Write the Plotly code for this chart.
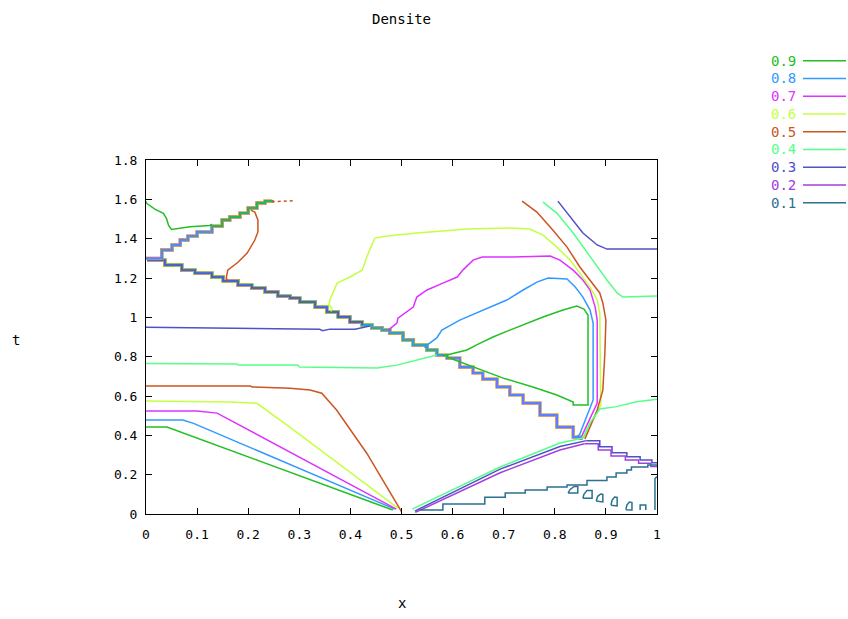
import plotly.graph_objects as go

# Contour levels of the density field and their colours
levels = [0.9, 0.8, 0.7, 0.6, 0.5, 0.4, 0.3, 0.2, 0.1]
level_labels = ["0.9", "0.8", "0.7", "0.6", "0.5", "0.4", "0.3", "0.2", "0.1"]
level_colors = ["#22c022", "#3399ff", "#dd33ff", "#c4ff40", "#cc5522",
                "#55ff88", "#5050c8", "#a040e0", "#2a7090"]

# Stair corners of the descending shock (from (0,1.3) to (0.85,0.38))
shock_x = [0.002, 0.037, 0.070, 0.096, 0.129, 0.151, 0.180, 0.207, 0.233, 0.258,
           0.282, 0.301, 0.331, 0.354, 0.376, 0.399, 0.423, 0.442, 0.462, 0.477,
           0.503, 0.523, 0.550, 0.569, 0.589, 0.614, 0.640, 0.659, 0.687, 0.712,
           0.738, 0.771, 0.804, 0.836, 0.851]
shock_t = [1.291, 1.266, 1.240, 1.225, 1.205, 1.185, 1.164, 1.149, 1.129, 1.108,
           1.098, 1.078, 1.052, 1.027, 1.002, 0.976, 0.961, 0.946, 0.935, 0.920,
           0.885, 0.859, 0.834, 0.808, 0.793, 0.747, 0.717, 0.686, 0.646, 0.605,
           0.564, 0.503, 0.442, 0.391, 0.376]
# x at which each level leaves the descending shock
shock_end = {0.9: 0.59, 0.8: 0.86, 0.7: 0.86, 0.6: 0.86, 0.5: 0.86, 0.4: 0.57, 0.3: 0.44}

# Stair corners of the rising front in the upper left (from (0,1.3) to (0.25,1.6))
front_x = [0.000, 0.031, 0.051, 0.067, 0.082, 0.100, 0.129, 0.149, 0.164, 0.184,
           0.200, 0.217, 0.233, 0.247]
front_t = [1.300, 1.342, 1.368, 1.393, 1.413, 1.434, 1.464, 1.495, 1.510, 1.530,
           1.556, 1.581, 1.591, 1.596]
# x at which each level joins the rising front
front_start = {0.9: 0.129, 0.8: 0.0, 0.7: 0.0, 0.6: 0.0, 0.5: 0.0}

# Remaining pieces of each contour (None separates pieces)
x9 = [0.0, 0.001, 0.018, 0.034, 0.040, 0.044, 0.050, 0.086, 0.125, 0.129, None,
      0.581, 0.628, 0.650, 0.679, 0.712, 0.746, 0.777, 0.816, 0.843, 0.857, 0.865,
      0.865, 0.865, 0.836, 0.836, 0.804, 0.757, 0.699, 0.648, 0.589, None,
      0.0, 0.041, 0.483]
t9 = [1.590, 1.580, 1.549, 1.529, 1.503, 1.469, 1.447, 1.461, 1.467, 1.474, None,
      0.803, 0.834, 0.864, 0.900, 0.935, 0.971, 1.002, 1.037, 1.057, 1.042, 1.012,
      0.935, 0.554, 0.554, 0.569, 0.605, 0.646, 0.691, 0.742, 0.798, None,
      0.442, 0.442, 0.020]

x8 = [0.0, 0.072, 0.093, 0.487, None,
      0.545, 0.550, 0.569, 0.579, 0.614, 0.659, 0.706, 0.738, 0.765, 0.787, 0.824,
      0.840, 0.855, 0.869, 0.875, 0.875, 0.849, 0.841]
t8 = [0.478, 0.478, 0.461, 0.025, None,
      0.845, 0.859, 0.895, 0.935, 0.986, 1.037, 1.088, 1.139, 1.179, 1.200, 1.195,
      1.154, 1.103, 1.037, 0.971, 0.580, 0.407, 0.386]

x7 = [0.0, 0.100, 0.139, 0.490, None,
      0.474, 0.491, 0.493, 0.523, 0.530, 0.550, 0.581, 0.609, 0.620, 0.640, 0.658,
      0.718, 0.791, 0.810, 0.836, 0.855, 0.869, 0.879, 0.883, 0.883, 0.853]
t7 = [0.524, 0.524, 0.513, 0.025, None,
      0.935, 0.971, 0.996, 1.052, 1.103, 1.139, 1.174, 1.205, 1.240, 1.291, 1.307,
      1.307, 1.312, 1.291, 1.240, 1.190, 1.139, 1.052, 0.986, 0.564, 0.397]

x6 = [0.0, 0.164, 0.217, 0.282, 0.493, None,
      0.362, 0.364, 0.358, 0.360, 0.374, 0.399, 0.423, 0.432, 0.442, 0.448, 0.472,
      0.530, 0.581, 0.628, 0.712, 0.751, 0.777, 0.804, 0.830, 0.849, 0.869, 0.883,
      0.888, 0.890, 0.857]
t6 = [0.575, 0.570, 0.563, 0.440, 0.030, None,
      1.030, 1.045, 1.065, 1.090, 1.174, 1.205, 1.240, 1.307, 1.368, 1.403, 1.413,
      1.429, 1.439, 1.449, 1.454, 1.449, 1.418, 1.357, 1.291, 1.225, 1.154, 1.088,
      1.022, 0.554, 0.386]

x5 = [0.0, 0.204, 0.208, 0.282, 0.321, 0.344, 0.373, 0.432, 0.500, None,
      0.205, 0.213, 0.219, 0.219, 0.213, 0.198, 0.180, 0.160, 0.157, 0.160, None,
      0.736, 0.765, 0.796, 0.824, 0.849, 0.869, 0.888, 0.894, 0.898, 0.900, 0.898,
      0.894, 0.883, 0.859]
t5 = [0.651, 0.651, 0.646, 0.640, 0.630, 0.614, 0.529, 0.309, 0.012, None,
      1.545, 1.535, 1.495, 1.434, 1.393, 1.327, 1.280, 1.240, 1.200, 1.185, None,
      1.591, 1.535, 1.444, 1.357, 1.256, 1.190, 1.124, 1.073, 1.022, 0.986, 0.819,
      0.630, 0.529, 0.381]
# ragged tail of the 0.5 level along t = 1.6
x5_tail = [0.246, 0.270, 0.292]
t5_tail = [1.588, 1.592, 1.593]

x4 = [0.0, 0.178, 0.180, 0.297, 0.300, 0.452, 0.491, 0.530, 0.569, None,
      0.777, 0.804, 0.836, 0.869, 0.902, 0.922, 0.933, 1.0, None,
      0.521, 0.693, 0.810, 0.855, 0.869, 0.888, 0.921, 0.960, 1.0]
t4 = [0.765, 0.763, 0.757, 0.757, 0.747, 0.742, 0.757, 0.783, 0.808, None,
      1.586, 1.530, 1.429, 1.307, 1.190, 1.124, 1.103, 1.108, None,
      0.025, 0.239, 0.361, 0.386, 0.463, 0.534, 0.546, 0.571, 0.583]

x3 = [0.0, 0.200, 0.340, 0.345, 0.360, 0.409, 0.438, None,
      0.806, 0.830, 0.855, 0.883, 0.902, 1.0, None,
      0.526, 0.693, 0.810, 0.862]
t3 = [0.950, 0.945, 0.940, 0.932, 0.940, 0.940, 0.956, None,
      1.591, 1.510, 1.429, 1.368, 1.347, 1.347, None,
      0.015, 0.228, 0.343, 0.373]
x3_steps = [0.862, 0.888, 0.912, 0.941, 0.967, 0.990, 1.0]
t3_steps = [0.373, 0.342, 0.312, 0.291, 0.275, 0.261, 0.261]

x2 = [0.527, 0.693, 0.810, 0.858]
t2 = [0.008, 0.210, 0.325, 0.357]
x2_steps = [0.858, 0.885, 0.910, 0.938, 0.964, 0.988, 1.0]
t2_steps = [0.357, 0.325, 0.295, 0.275, 0.258, 0.242, 0.242]

x1_steps = [0.536, 0.581, 0.663, 0.703, 0.742, 0.785, 0.824, 0.863, 0.902, 0.920,
            0.941, 0.950, 0.982, 1.0]
t1_steps = [0.020, 0.051, 0.085, 0.107, 0.122, 0.137, 0.147, 0.170, 0.188, 0.208,
            0.224, 0.239, 0.249, 0.249]
x1 = [0.826, 0.830, 0.838, 0.845, 0.845, 0.826, None,
      0.855, 0.857, 0.863, 0.873, 0.873, 0.855, None,
      0.881, 0.884, 0.890, 0.894, 0.894, 0.881, None,
      0.910, 0.912, 0.917, 0.922, 0.922, 0.910, None,
      0.939, 0.941, 0.946, 0.951, 0.951, 0.939, None,
      0.967, 0.967, 0.978, 0.978, None,
      0.996, 0.996, 1.0]
t1 = [0.107, 0.125, 0.140, 0.140, 0.107, 0.107, None,
      0.080, 0.100, 0.120, 0.120, 0.080, 0.080, None,
      0.066, 0.090, 0.102, 0.100, 0.061, 0.066, None,
      0.045, 0.070, 0.086, 0.084, 0.041, 0.045, None,
      0.022, 0.045, 0.061, 0.058, 0.020, 0.022, None,
      0.020, 0.046, 0.046, 0.020, None,
      0.020, 0.180, 0.190]

color_of = dict(zip(levels, level_colors))
LW = 1.5

fig = go.Figure()


def add_line(xs, ts, level, width=LW, shape="linear", dash="solid"):
    fig.add_trace(go.Scatter(
        x=xs, y=ts, mode="lines", showlegend=False, hoverinfo="skip",
        line=dict(color=color_of[level], width=width, shape=shape, dash=dash),
    ))


# shock and front: the levels pile up there, drawn widest first
shock_widths = [(0.4, 3.8), (0.5, 3.2), (0.6, 2.7), (0.7, 2.2), (0.9, 1.9), (0.8, 1.5), (0.3, 1.4)]
for lev, w in shock_widths:
    sx = [x for x in shock_x if x <= shock_end[lev]]
    st = shock_t[:len(sx)]
    add_line(sx, st, lev, width=w, shape="hv")

front_widths = [(0.5, 3.4), (0.6, 2.8), (0.7, 2.3), (0.8, 1.8), (0.9, 1.5)]
for lev, w in front_widths:
    idx = [i for i, x in enumerate(front_x) if x >= front_start[lev]]
    add_line([front_x[i] for i in idx], [front_t[i] for i in idx], lev, width=w, shape="hv")

add_line(x9, t9, 0.9)
add_line(x8, t8, 0.8)
add_line(x7, t7, 0.7)
add_line(x6, t6, 0.6)
add_line(x5, t5, 0.5)
add_line(x5_tail, t5_tail, 0.5, dash="dot")
add_line(x4, t4, 0.4)
add_line(x3, t3, 0.3)
add_line(x3_steps, t3_steps, 0.3, shape="hv")
add_line(x2, t2, 0.2)
add_line(x2_steps, t2_steps, 0.2, shape="hv")
add_line(x1_steps, t1_steps, 0.1, shape="hv")
add_line(x1, t1, 0.1)

# plot-area geometry in pixels
L, R, T, B = 146, 657, 160, 514
W, H = 848, 619
FONT = "DejaVu Sans Mono"


def paper_x(px):
    return (px - L) / (R - L)


def paper_y(py):
    return (B - py) / (B - T)


annotations = [
    dict(text="x", x=0.5, y=paper_y(603), xref="paper", yref="paper",
         xanchor="center", yanchor="middle", showarrow=False,
         font=dict(family=FONT, size=14, color="#000")),
    dict(text="t", x=paper_x(16), y=paper_y(340), xref="paper", yref="paper",
         xanchor="center", yanchor="middle", showarrow=False,
         font=dict(family=FONT, size=14, color="#000")),
]
shapes = []
for k, (lab, col) in enumerate(zip(level_labels, level_colors)):
    py = 60.7 + 17.75 * k
    annotations.append(dict(
        text=lab, x=paper_x(798), y=paper_y(py), xref="paper", yref="paper",
        xanchor="right", yanchor="middle", showarrow=False,
        font=dict(family=FONT, size=14, color=col),
    ))
    shapes.append(dict(
        type="line", xref="paper", yref="paper",
        x0=paper_x(803), x1=paper_x(846), y0=paper_y(py), y1=paper_y(py),
        line=dict(color=col, width=1.5),
    ))

axis_common = dict(
    showgrid=False, zeroline=False, showline=True, linecolor="#000", linewidth=1,
    mirror="ticks", ticks="inside", ticklen=6, tickcolor="#000", tickwidth=1,
    tickfont=dict(family=FONT, size=13, color="#000"),
)

fig.update_layout(
    width=W, height=H,
    margin=dict(l=L, r=W - R, t=T, b=H - B, pad=0),
    paper_bgcolor="white", plot_bgcolor="white",
    title=dict(text="Densite", x=0.5, xref="paper", xanchor="center",
               y=1 - 19 / H, yref="container", yanchor="middle",
               font=dict(family=FONT, size=14, color="#000")),
    xaxis=dict(range=[0, 1], dtick=0.1, tick0=0, ticklabelstandoff=8, **axis_common),
    yaxis=dict(range=[0, 1.8], dtick=0.2, tick0=0, ticklabelstandoff=5, **axis_common),
    annotations=annotations,
    shapes=shapes,
    showlegend=False,
)

fig.write_html("out.html")
